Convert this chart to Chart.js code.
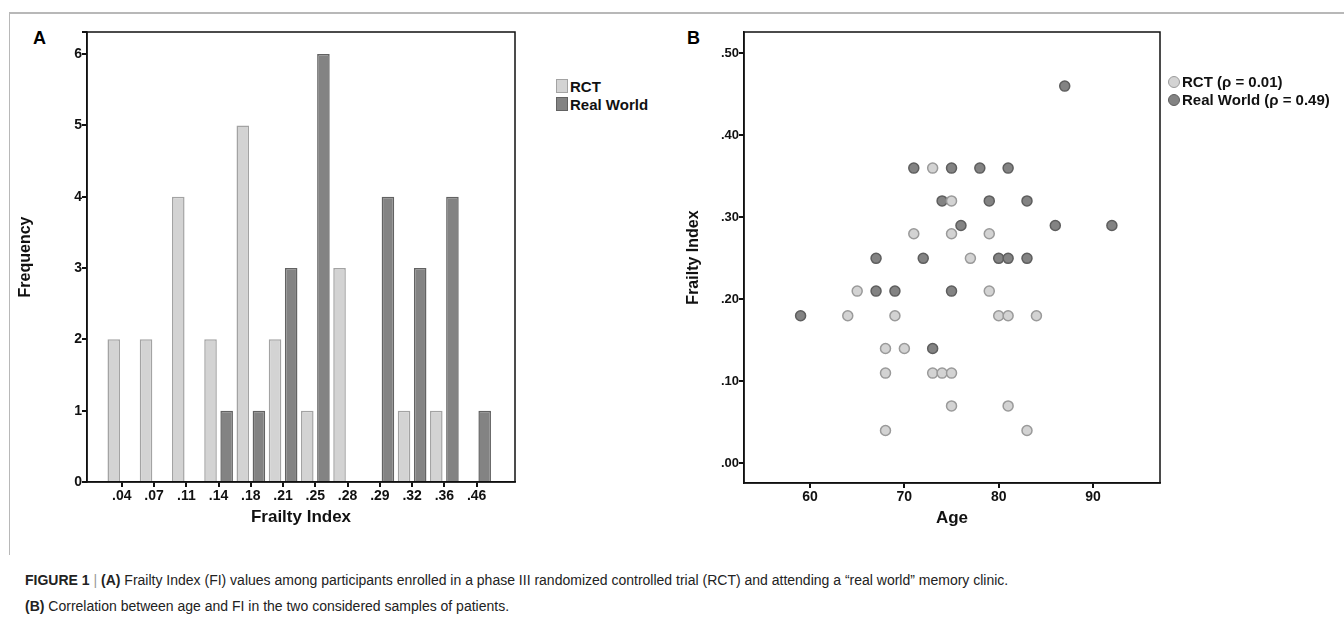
<!DOCTYPE html>
<html><head><meta charset="utf-8">
<script src="https://cdn.jsdelivr.net/npm/chart.js@4"></script>
<style>
body{margin:0;background:#fff;font-family:"Liberation Sans",Arial,sans-serif;}
#frame{position:absolute;left:9px;top:12px;width:1400px;height:541px;border-left:1.5px solid #b8b8b8;border-top:2px solid #b8b8b8;}
.panel{position:absolute;font-weight:bold;font-size:18px;}
#c1{position:absolute;left:12px;top:12px;}
#c2{position:absolute;left:680px;top:12px;}
.leg{position:absolute;font-family:"Liberation Sans Narrow","Liberation Sans",sans-serif;font-weight:bold;font-size:15px;color:#111;line-height:18px;}
.sq{display:inline-block;width:10px;height:12px;vertical-align:-1px;margin-right:2px;border:1.5px solid;}
.dot{display:inline-block;width:10px;height:10px;vertical-align:-1px;margin-right:2px;border:1.5px solid;border-radius:50%;}
#cap{position:absolute;left:25px;top:567px;font-size:14px;line-height:26px;color:#222;}
</style></head><body>
<div id="frame"></div>
<div class="panel" style="left:33px;top:28px">A</div>
<div class="panel" style="left:687px;top:28px">B</div>
<canvas id="c1" width="513" height="520"></canvas>
<canvas id="c2" width="490" height="521"></canvas>
<div class="leg" style="left:556px;top:78px">
<div><span class="sq" style="background:#d3d3d3;border-color:#a3a3a3"></span>RCT</div>
<div><span class="sq" style="background:#838383;border-color:#626262"></span>Real World</div></div>
<div class="leg" style="left:1168px;top:73px">
<div><span class="dot" style="background:#d3d3d3;border-color:#9a9a9a"></span>RCT (ρ = 0.01)</div>
<div><span class="dot" style="background:#838383;border-color:#5e5e5e"></span>Real World (ρ = 0.49)</div></div>
<div id="cap"><b>FIGURE 1</b> <span style="color:#999">|</span> <b>(A)</b> Frailty Index (FI) values among participants enrolled in a phase III randomized controlled trial (RCT) and attending a “real world” memory clinic.<br><b>(B)</b> Correlation between age and FI in the two considered samples of patients.</div>
<script>
const fiLabels = ['.04','.07','.11','.14','.18','.21','.25','.28','.29','.32','.36','.46'];
const rctFreq = [2,2,4,2,5,2,1,3,0,1,1,0];
const rwFreq  = [0,0,0,1,1,3,6,0,4,3,4,1];

const rctAge = [73,75,71,75,79,77,65,79,64,69,80,81,84,68,70,68,73,74,75,75,81,68,83];
const rctFI  = [.36,.32,.28,.28,.28,.25,.21,.21,.18,.18,.18,.18,.18,.14,.14,.11,.11,.11,.11,.07,.07,.04,.04];
const rwAge = [87,71,75,78,81,74,79,83,76,86,92,67,72,80,81,83,67,69,75,59,73];
const rwFI  = [.46,.36,.36,.36,.36,.32,.32,.32,.29,.29,.29,.25,.25,.25,.25,.25,.21,.21,.21,.18,.14];

const lightFill = '#d3d3d3', lightLine = '#a3a3a3';
const darkFill = '#838383', darkLine = '#626262';
const font = {family: '"Liberation Sans Narrow", "Liberation Sans", sans-serif', weight: 'bold'};

const boxPlugin = {
  id: 'box',
  afterDraw(chart) {
    const a = chart.chartArea, ctx = chart.ctx;
    ctx.save();
    ctx.strokeStyle = '#111';
    ctx.lineWidth = 1.5;
    ctx.strokeRect(a.left, a.top, a.right - a.left, a.bottom - a.top);
    ctx.restore();
  }
};

function axisTicks() {
  return {display: true, offset: false, drawOnChartArea: false, tickLength: 5, color: '#111', lineWidth: 2};
}

new Chart(document.getElementById('c1'), {
  type: 'bar',
  data: {
    datasets: [
      {label: 'RCT', data: rctFreq.map((v, i) => ({x: i, y: v})), backgroundColor: lightFill, borderColor: lightLine, borderWidth: 1.5},
      {label: 'Real World', data: rwFreq.map((v, i) => ({x: i, y: v})), backgroundColor: darkFill, borderColor: darkLine, borderWidth: 1.5}
    ]
  },
  options: {
    responsive: false, animation: false,
    layout: {padding: {left: 0, top: 20, right: 10, bottom: 0}},
    datasets: {bar: {categoryPercentage: 1, barPercentage: 0.78, grouped: true}},
    scales: {
      x: {
        type: 'linear', min: -1.08, max: 12.19, offset: false,
        afterFit(s) { s.height = 50; },
        grid: axisTicks(), border: {color: '#111', width: 1.5},
        afterBuildTicks(s) { s.ticks = fiLabels.map((l, i) => ({value: i})); },
        ticks: {autoSkip: false, maxRotation: 0, padding: 1, color: '#111', font: {...font, size: 14},
          callback: v => fiLabels[v]},
        title: {display: true, text: 'Frailty Index', color: '#111', font: {...font, size: 17}, padding: {top: 0}}
      },
      y: {
        min: 0, max: 6.31,
        afterFit(s) { s.width = 75; },
        grid: axisTicks(), border: {color: '#111', width: 1.5},
        ticks: {stepSize: 1, padding: 0, color: '#111', font: {...font, size: 14},
          callback: v => Number.isInteger(v) ? v : ''},
        title: {display: true, text: 'Frequency', color: '#111', font: {family: '"Liberation Sans", sans-serif', weight: 'bold', size: 16}}
      }
    },
    plugins: {legend: {display: false}, tooltip: {enabled: false}}
  },
  plugins: [boxPlugin]
});

new Chart(document.getElementById('c2'), {
  type: 'scatter',
  data: {
    datasets: [
      {label: 'RCT (ρ = 0.01)', data: rctAge.map((a, i) => ({x: a, y: rctFI[i]})),
        backgroundColor: lightFill, borderColor: '#9a9a9a', borderWidth: 1.5, pointRadius: 5},
      {label: 'Real World (ρ = 0.49)', data: rwAge.map((a, i) => ({x: a, y: rwFI[i]})),
        backgroundColor: darkFill, borderColor: '#5e5e5e', borderWidth: 1.5, pointRadius: 5}
    ]
  },
  options: {
    responsive: false, animation: false,
    layout: {padding: {top: 20, left: 0, right: 10, bottom: 0}},
    scales: {
      x: {
        min: 53, max: 97.1,
        afterFit(s) { s.height = 50; },
        grid: axisTicks(), border: {color: '#111', width: 1.5},
        afterBuildTicks(s) { s.ticks = [60, 70, 80, 90].map(v => ({value: v})); },
        ticks: {padding: 1, color: '#111', font: {...font, size: 14}},
        title: {display: true, text: 'Age', color: '#111', font: {...font, size: 17}, padding: {top: 0}}
      },
      y: {
        min: -0.024, max: 0.526,
        afterFit(s) { s.width = 64; },
        grid: axisTicks(), border: {color: '#111', width: 1.5},
        afterBuildTicks(s) { s.ticks = [0, .1, .2, .3, .4, .5].map(v => ({value: v})); },
        ticks: {padding: 0, color: '#111', font: {...font, size: 13}, callback: v => v.toFixed(2).replace(/^0/, '')},
        title: {display: true, text: 'Frailty Index', color: '#111', font: {family: '"Liberation Sans", sans-serif', weight: 'bold', size: 16}}
      }
    },
    plugins: {legend: {display: false}, tooltip: {enabled: false}}
  },
  plugins: [boxPlugin]
});
</script>
</body></html>
